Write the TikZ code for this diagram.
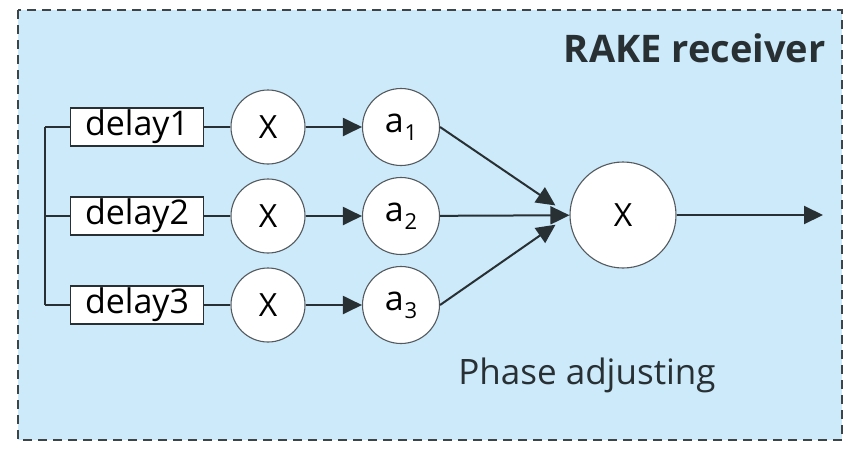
\documentclass[tikz,border=0pt]{standalone}
\usepackage{fontspec}
\setmainfont{Open Sans}
\usetikzlibrary{arrows.meta}

\definecolor{rakebg}{RGB}{204,234,250}
\definecolor{rakeline}{RGB}{40,48,52}

\newcommand{\gainlabel}[1]{a\kern1pt\raisebox{-8pt}{\fontsize{22}{22}\selectfont #1}}

\tikzset{
    delaybox/.style={draw=rakeline, line width=1.6pt, fill=white, minimum width=133pt,
        minimum height=38pt, inner sep=0pt, font=\fontsize{34}{34}\selectfont},
    mulnode/.style={draw=rakeline!80, line width=1.1pt, circle, fill=white, minimum size=74pt,
        inner sep=0pt, font=\fontsize{32}{32}\selectfont},
    gainnode/.style={draw=rakeline!80, line width=1.1pt, circle, fill=white, minimum size=77pt,
        inner sep=0pt, font=\fontsize{34}{34}\selectfont},
    sig/.style={draw=rakeline, line width=2pt},
    sigarrow/.style={sig, -{Triangle[length=19pt,width=18pt]}}
}

\begin{document}
\begin{tikzpicture}[x=1pt, y=-1pt]
    \useasboundingbox (0,0) rectangle (845,448);

    % 背景框
    \fill[rakebg] (18,10) rectangle (842,440);
    \draw[rakeline!90, line width=1.3pt, dash pattern=on 9pt off 6pt] (18,10) rectangle (842,440);

    % 标题
    \node[anchor=east, font=\fontsize{38}{38}\selectfont\bfseries, text=rakeline] (title) at (829,48) {RAKE receiver};
    \node[font=\fontsize{35}{35}\selectfont, text=rakeline] (phase) at (587,375) {Phase adjusting};

    % 三个支路
    \foreach \i/\y in {1/127, 2/216, 3/305} {
        \node[delaybox] (d\i) at (137,\y) {delay\i};
        \node[mulnode] (m\i) at (268,\y) {X};
        \node[gainnode] (a\i) at (401,\y) {\gainlabel{\i}};
        \draw[sig] (d\i) -- (m\i);
        \draw[sigarrow] (m\i) -- (a\i);
    }

    % 输入总线
    \coordinate (bustop) at (45,127);
    \coordinate (busmid) at (45,216);
    \coordinate (busbot) at (45,305);
    \draw[sig] (bustop) -- (busbot);
    \draw[sig] (bustop) -- (d1.west);
    \draw[sig] (busmid) -- (d2.west);
    \draw[sig] (busbot) -- (d3.west);

    % 合并
    \node[mulnode, minimum size=106pt] (sum) at (623,215) {X};
    \draw[sigarrow, shorten >=17pt] (a1.east) -- (sum.west);
    \draw[sigarrow] (a2) -- (sum);
    \draw[sigarrow, shorten >=17pt] (a3.east) -- (sum.west);

    % 输出
    \coordinate (out) at (823,215);
    \draw[sigarrow] (sum) -- (out);
\end{tikzpicture}
\end{document}
